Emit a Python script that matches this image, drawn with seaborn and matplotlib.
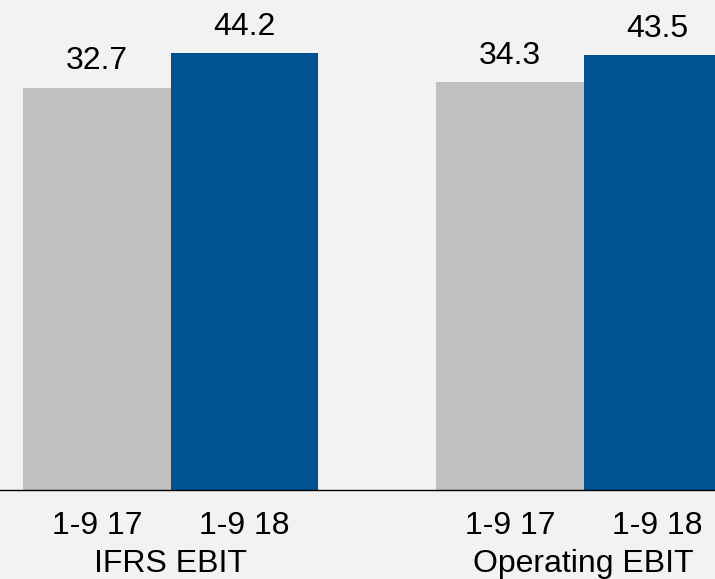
import matplotlib
matplotlib.use("Agg")
import matplotlib.pyplot as plt
import seaborn as sns
import pandas as pd

# EBIT comparison, January-September 2017 vs 2018 (MEUR)
metrics = ["IFRS EBIT", "Operating EBIT"]
periods = ["1-9 17", "1-9 18"]
ebit_2017 = [32.7, 34.3]
ebit_2018 = [44.2, 43.5]

bar_colors = ["#c0c0c0", "#005291"]
background = "#f2f2f2"

df = pd.DataFrame({
    "metric": metrics * 2,
    "period": [periods[0]] * len(metrics) + [periods[1]] * len(metrics),
    "value": ebit_2017 + ebit_2018,
})

sns.set_theme(style="white")
plt.rcParams["font.family"] = ["Liberation Sans", "DejaVu Sans"]

fig = plt.figure(figsize=(7.15, 5.79), dpi=100, facecolor=background)
ax = fig.add_axes([0.0, 0.1532, 1.0, 0.8468])
ax.set_facecolor(background)

sns.barplot(
    data=df, x="metric", y="value", hue="period",
    palette=bar_colors, saturation=1, width=0.714,
    legend=False, ax=ax, linewidth=0,
)

ax.set_yscale("log")
ax.set_ylim(1, 70)
ax.set_xlim(-0.413, 1.318)
ax.set_yticks([])
ax.minorticks_off()
ax.yaxis.set_minor_locator(matplotlib.ticker.NullLocator())
ax.set_xlabel("")
ax.set_ylabel("")

for side in ["left", "right", "top"]:
    ax.spines[side].set_visible(False)
ax.spines["bottom"].set_color("black")
ax.spines["bottom"].set_linewidth(1.0)

# value labels above each bar
for container, vals in zip(ax.containers, [ebit_2017, ebit_2018]):
    ax.bar_label(container, labels=[f"{v:.1f}" for v in vals],
                 padding=8.2, fontsize=23, color="black")

# period labels under each bar
centers, labels = [], []
for container, period in zip(ax.containers, periods):
    for bar in container:
        centers.append(bar.get_x() + bar.get_width() / 2)
        labels.append(period)
ax.set_xticks(centers)
ax.set_xticklabels(labels, fontsize=23, color="black")
ax.tick_params(axis="x", length=0, pad=15)

# metric names under each pair of bars
for i, name in enumerate(metrics):
    ax.annotate(name, xy=(i, 0), xycoords=("data", "axes fraction"),
                xytext=(0, -58.6), textcoords="offset points",
                ha="center", va="baseline", fontsize=23, color="black",
                annotation_clip=False)

fig.savefig("out.png", dpi=100, facecolor=background)
